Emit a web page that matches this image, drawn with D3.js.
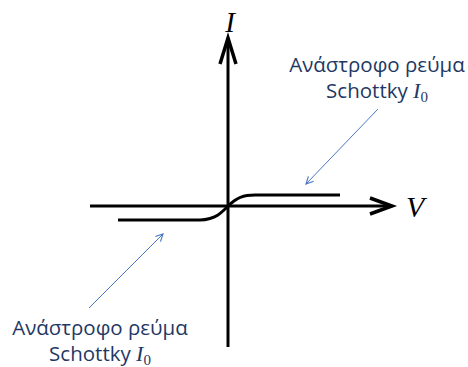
<!DOCTYPE html>
<meta charset="utf-8">
<script src="https://d3js.org/d3.v7.min.js"></script>
<style>
  body { margin: 0; background: #fff; }
</style>
<div id="my_dataviz"></div>
<script>

// I-V curve of a Schottky diode (arbitrary units, origin at the axes crossing)
var curveV = [-11, -2.8, -1.8, -1.0, -0.4, 0, 0.6, 1.2, 1.9, 2.7, 11.2];
var curveI = [-1.4, -1.4, -1.25, -0.9, -0.4, 0, 0.5, 0.85, 1.05, 1.1, 1.1];

// axis extents
var vExtent = [-13.8, 16.4];
var iExtent = [-14.1, 16.8];

// annotation labels and where their pointer arrows go
var labelLines = ["Ανάστροφο ρεύμα", "Schottky "];
var labelAt = [[14.9, 13.4], [-12.8, -12.9]];
var pointerFrom = [[15, 9.7], [-13.9, -10.2]];
var pointerTo = [[7.8, 2.2], [-6.5, -2.8]];

var width = 468, height = 367;

var svg = d3.select("#my_dataviz")
  .append("svg")
    .attr("width", width)
    .attr("height", height);

// 10 px per unit, origin at (228, 206)
var x = d3.scaleLinear()
  .domain([0, 1])
  .range([228, 238]);
var y = d3.scaleLinear()
  .domain([0, 1])
  .range([206, 196]);

var defs = svg.append("defs");
defs.append("marker")
    .attr("id", "thin")
    .attr("viewBox", "0 0 10 10")
    .attr("refX", 9)
    .attr("refY", 5)
    .attr("markerWidth", 9)
    .attr("markerHeight", 9)
    .attr("markerUnits", "userSpaceOnUse")
    .attr("orient", "auto")
  .append("path")
    .attr("d", "M1,1 L9,5 L1,9")
    .attr("fill", "none")
    .attr("stroke", "#4a78c2")
    .attr("stroke-width", 1.3);

// axes
svg.append("line")
    .attr("x1", x(vExtent[0])).attr("x2", x(vExtent[1]))
    .attr("y1", y(0)).attr("y2", y(0))
    .attr("stroke", "#000").attr("stroke-width", 3);
svg.append("line")
    .attr("x1", x(0)).attr("x2", x(0))
    .attr("y1", y(iExtent[0])).attr("y2", y(iExtent[1]))
    .attr("stroke", "#000").attr("stroke-width", 3);

// arrow heads (open V)
var xe = x(vExtent[1]), ye = y(iExtent[1]);
svg.append("path")
    .attr("d", "M" + (xe - 22) + "," + (y(0) - 8) + " L" + xe + "," + y(0) + " L" + (xe - 22) + "," + (y(0) + 8))
    .attr("fill", "none").attr("stroke", "#000").attr("stroke-width", 3.5)
    .attr("stroke-linejoin", "miter");
svg.append("path")
    .attr("d", "M" + (x(0) - 8) + "," + (ye + 26) + " L" + x(0) + "," + ye + " L" + (x(0) + 8) + "," + (ye + 26))
    .attr("fill", "none").attr("stroke", "#000").attr("stroke-width", 3.5)
    .attr("stroke-linejoin", "miter");

// the curve
var pts = curveV.map(function(v, i) { return [v, curveI[i]]; });
svg.append("path")
    .datum(pts)
    .attr("fill", "none")
    .attr("stroke", "#000")
    .attr("stroke-width", 3)
    .attr("d", d3.line()
      .x(function(d) { return x(d[0]); })
      .y(function(d) { return y(d[1]); })
      .curve(d3.curveMonotoneX));

// axis letters
svg.append("text")
    .attr("x", x(0) + 2).attr("y", 32)
    .attr("text-anchor", "middle")
    .style("font-family", "Liberation Serif, serif")
    .style("font-style", "italic")
    .style("font-size", "29px")
    .text("I");
svg.append("text")
    .attr("x", 406).attr("y", 217)
    .style("font-family", "Liberation Serif, serif")
    .style("font-style", "italic")
    .style("font-size", "30px")
    .text("V");

// pointer arrows
svg.selectAll("pointers")
  .data(pointerFrom)
  .enter()
  .append("line")
    .attr("x1", function(d) { return x(d[0]); })
    .attr("y1", function(d) { return y(d[1]); })
    .attr("x2", function(d, i) { return x(pointerTo[i][0]); })
    .attr("y2", function(d, i) { return y(pointerTo[i][1]); })
    .attr("stroke", "#4a78c2")
    .attr("stroke-width", 1)
    .attr("marker-end", "url(#thin)");

// labels
labelAt.forEach(function(p) {
  var t = svg.append("text")
      .attr("text-anchor", "middle")
      .style("font-family", "Open Sans, sans-serif")
      .style("font-size", "20.5px")
      .style("fill", "#1f3864");
  t.append("tspan")
      .attr("x", x(p[0])).attr("y", y(p[1]))
      .text(labelLines[0]);
  t.append("tspan")
      .attr("x", x(p[0])).attr("dy", 26)
      .text(labelLines[1]);
  t.append("tspan")
      .style("font-family", "Liberation Serif, serif")
      .style("font-style", "italic")
      .style("font-size", "22px")
      .text("I");
  t.append("tspan")
      .attr("dy", 4)
      .style("font-family", "Liberation Serif, serif")
      .style("font-size", "15px")
      .text("0");
});

</script>
